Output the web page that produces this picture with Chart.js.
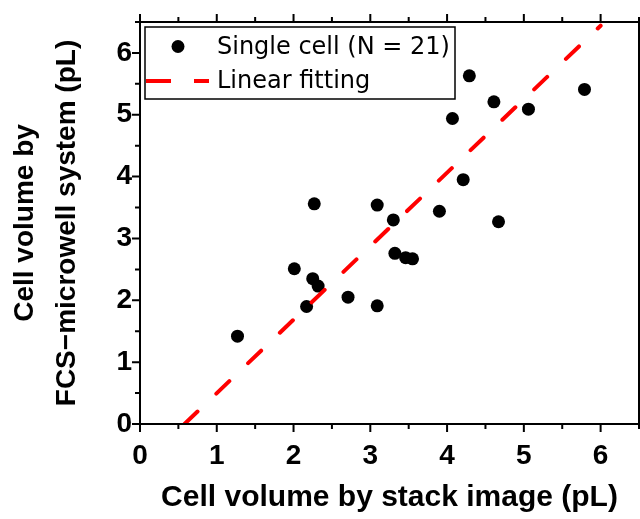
<!DOCTYPE html>
<html>
<head>
<meta charset="utf-8">
<script src="https://cdn.jsdelivr.net/npm/chart.js@4/dist/chart.umd.min.js"></script>
<style>
  html, body { margin: 0; padding: 0; background: #fff; overflow: hidden; }
  #wrap { width: 640px; height: 519px; position: relative; }
  #c { display: block; }
</style>
</head>
<body>
<div id="wrap"><canvas id="c"></canvas></div>
<script>
// ─── 数据 ────────────────────────────────────────────────────
const stackVol = [1.27, 2.27, 3.09, 2.01, 2.25, 2.32, 2.17, 2.71, 3.09, 3.30, 3.32,
                  3.46, 3.55, 3.90, 4.07, 4.21, 4.67, 4.61, 5.06, 4.29, 5.79];
const fcsVol   = [1.42, 3.56, 3.54, 2.51, 2.35, 2.23, 1.90, 2.05, 1.91, 3.30, 2.76,
                  2.69, 2.67, 3.44, 4.94, 3.95, 3.27, 5.21, 5.09, 5.63, 5.41];
const fitX = [0.58, 6.0];
const fitY = [0, 6.44];
const axisTicks = [0, 1, 2, 3, 4, 5, 6];

const TICK_FONT = { family: "'Liberation Sans', Arial, sans-serif", size: 28, weight: 'bold' };
const TITLE_FONT = { family: "'Liberation Sans', Arial, sans-serif", size: 30, weight: 'bold' };

// 边框、刻度线、图例（画在绘图区内）
const framePlugin = {
  id: 'frame',
  afterDatasetsDraw(chart) {
    const { ctx, chartArea: a, scales: { x, y } } = chart;
    ctx.save();
    ctx.strokeStyle = '#000';
    ctx.lineWidth = 2;
    ctx.strokeRect(a.left, a.top, a.right - a.left, a.bottom - a.top);

    // 刻度：整数长，半格短
    for (let v = 0; v <= 6.5; v += 0.5) {
      const len = axisTicks.includes(v) ? 8 : 5;
      const px = x.getPixelForValue(v);
      const py = y.getPixelForValue(v);
      ctx.beginPath();
      ctx.moveTo(px, a.bottom); ctx.lineTo(px, a.bottom + len);
      ctx.moveTo(px, a.top);    ctx.lineTo(px, a.top - len);
      ctx.moveTo(a.left, py);   ctx.lineTo(a.left - len, py);
      ctx.stroke();
    }

    // 图例
    const ds = chart.data.datasets;
    const bx = a.left + 5, by = a.top + 5, bw = 310, bh = 72;
    ctx.fillStyle = '#fff';
    ctx.fillRect(bx, by, bw, bh);
    ctx.lineWidth = 1.5;
    ctx.strokeRect(bx, by, bw, bh);

    ctx.font = "24px 'DejaVu Sans', sans-serif";
    ctx.textBaseline = 'middle';
    ctx.textAlign = 'left';

    const row1 = by + 19.5, row2 = by + 54;
    ctx.fillStyle = '#000';
    ctx.beginPath();
    ctx.arc(bx + 33, row1, 6.5, 0, Math.PI * 2);
    ctx.fill();
    ctx.fillText(ds[0].label, bx + 72, row1 + 1);

    ctx.strokeStyle = ds[1].borderColor;
    ctx.lineWidth = 4;
    ctx.lineCap = 'butt';
    ctx.setLineDash([25, 23]);
    ctx.beginPath();
    ctx.moveTo(bx + 1, row2); ctx.lineTo(bx + 64, row2);
    ctx.stroke();
    ctx.setLineDash([]);
    ctx.fillText(ds[1].label, bx + 72, row2 + 1);
    ctx.restore();
  }
};

new Chart(document.getElementById('c'), {
  type: 'scatter',
  data: {
    datasets: [
      {
        label: 'Single cell (N = 21)',
        data: stackVol.map((v, i) => ({ x: v, y: fcsVol[i] })),
        pointRadius: 6.5,
        pointHoverRadius: 6.5,
        backgroundColor: '#000',
        borderWidth: 0,
        order: 1,
      },
      {
        label: 'Linear fitting',
        data: fitX.map((v, i) => ({ x: v, y: fitY[i] })),
        showLine: true,
        borderColor: '#ff0000',
        borderWidth: 4,
        borderDash: [18, 26],
        borderCapStyle: 'round',
        pointRadius: 0,
        fill: false,
        order: 0,
      },
    ],
  },
  options: {
    responsive: true,
    maintainAspectRatio: false,
    animation: false,
    // 关掉 autoPadding，否则点半径会在右侧多留约 5px
    layout: { autoPadding: false, padding: { left: 0, right: 1, top: 22, bottom: 0 } },
    plugins: { legend: { display: false }, tooltip: { enabled: false } },
    scales: {
      x: {
        type: 'linear',
        min: 0, max: 6.5,
        grid: { display: false, drawTicks: false },
        border: { display: false },
        afterFit: s => { s.height = 95; s.paddingLeft = 0; s.paddingRight = 0; },
        ticks: {
          stepSize: 0.5, autoSkip: false, maxRotation: 0, padding: 15,
          color: '#000', font: TICK_FONT,
          callback: v => (axisTicks.includes(v) ? String(v) : ''),
        },
        title: {
          display: true, text: 'Cell volume by stack image (pL)',
          color: '#000', font: TITLE_FONT, padding: { top: 0, bottom: 3 },
        },
      },
      y: {
        type: 'linear',
        min: 0, max: 6.5,
        grid: { display: false, drawTicks: false },
        border: { display: false },
        afterFit: s => { s.width = 140; s.paddingTop = 0; s.paddingBottom = 0; },
        ticks: {
          stepSize: 0.5, autoSkip: false, padding: 8,
          color: '#000', font: TICK_FONT,
          callback: v => (axisTicks.includes(v) ? String(v) : ''),
        },
        title: {
          display: true, text: ['Cell volume by', 'FCS\u2212microwell system (pL)'],
          color: '#000', font: { ...TITLE_FONT, size: 28, lineHeight: 1.5 }, padding: { top: 4, bottom: 0 },
        },
      },
    },
  },
  plugins: [framePlugin],
});
</script>
</body>
</html>
